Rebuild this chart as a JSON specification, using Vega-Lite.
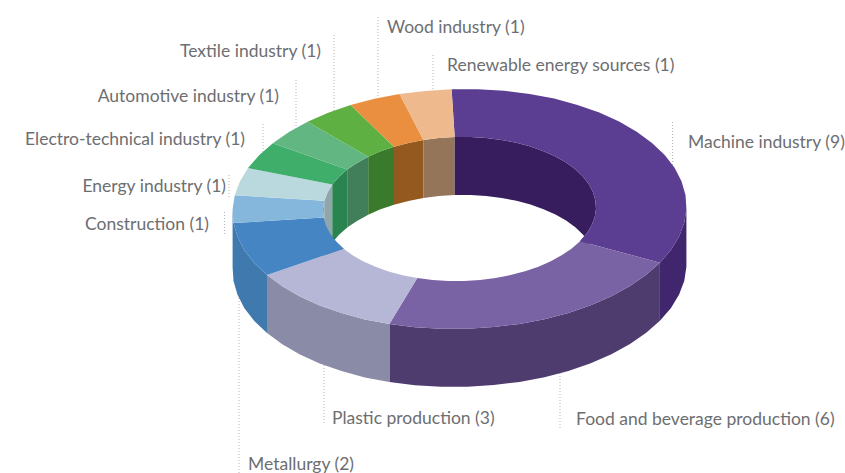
{
"$schema":"https://vega.github.io/schema/vega-lite/v6.json",
"width":845,"height":473,"padding":0,
"autosize":{"type":"none"},
"background":"#ffffff",
"view":{"stroke":null},
"datasets":{
"leaders":[
{"name":"Wood industry","x":378,"y":17,"y2":97},
{"name":"Renewable energy sources","x":433,"y":55,"y2":92},
{"name":"Textile industry","x":334,"y":35,"y2":112},
{"name":"Automotive industry","x":296,"y":80,"y2":130},
{"name":"Electro-technical industry","x":263,"y":124,"y2":152},
{"name":"Energy industry","x":229,"y":175,"y2":198},
{"name":"Construction","x":224.5,"y":212,"y2":234},
{"name":"Machine industry","x":672.5,"y":122,"y2":165},
{"name":"Food and beverage production","x":560,"y":370,"y2":430},
{"name":"Plastic production","x":324,"y":362,"y2":425},
{"name":"Metallurgy","x":239,"y":295,"y2":473}
],
"labels":[
{"label":"Wood industry (1)","side":"left","x":387,"y":27},
{"label":"Renewable energy sources (1)","side":"left","x":447,"y":65},
{"label":"Machine industry (9)","side":"left","x":688,"y":142},
{"label":"Plastic production (3)","side":"left","x":332,"y":418},
{"label":"Food and beverage production (6)","side":"left","x":576,"y":419},
{"label":"Metallurgy (2)","side":"left","x":248,"y":464},
{"label":"Textile industry (1)","side":"right","x":321,"y":51},
{"label":"Automotive industry (1)","side":"right","x":279,"y":96},
{"label":"Electro-technical industry (1)","side":"right","x":245,"y":139},
{"label":"Energy industry (1)","side":"right","x":226,"y":186},
{"label":"Construction (1)","side":"right","x":209,"y":224}
],
"faces":[
{"face":"Machine outer wall","i":0,"x":686.4,"y":208.8},{"face":"Machine outer wall","i":1,"x":684.3,"y":222.7},{"face":"Machine outer wall","i":2,"x":679.1,"y":236.5},{"face":"Machine outer wall","i":3,"x":671.0,"y":249.9},{"face":"Machine outer wall","i":4,"x":659.9,"y":262.7},{"face":"Machine outer wall","i":5,"x":659.9,"y":320.7},{"face":"Machine outer wall","i":6,"x":671.0,"y":307.9},{"face":"Machine outer wall","i":7,"x":679.1,"y":294.5},{"face":"Machine outer wall","i":8,"x":684.3,"y":280.7},{"face":"Machine outer wall","i":9,"x":686.4,"y":266.8},
{"face":"Food outer wall","i":0,"x":659.9,"y":262.7},{"face":"Food outer wall","i":1,"x":646.2,"y":274.8},{"face":"Food outer wall","i":2,"x":630.0,"y":285.9},{"face":"Food outer wall","i":3,"x":611.4,"y":296.2},{"face":"Food outer wall","i":4,"x":590.8,"y":305.2},{"face":"Food outer wall","i":5,"x":568.4,"y":312.9},{"face":"Food outer wall","i":6,"x":544.5,"y":319.2},{"face":"Food outer wall","i":7,"x":519.5,"y":323.9},{"face":"Food outer wall","i":8,"x":493.7,"y":327.1},{"face":"Food outer wall","i":9,"x":467.4,"y":328.8},{"face":"Food outer wall","i":10,"x":441.0,"y":328.8},{"face":"Food outer wall","i":11,"x":414.9,"y":327.3},{"face":"Food outer wall","i":12,"x":389.4,"y":324.0},
{"face":"Food outer wall","i":13,"x":389.4,"y":382.0},{"face":"Food outer wall","i":14,"x":414.9,"y":385.3},{"face":"Food outer wall","i":15,"x":441.0,"y":386.8},{"face":"Food outer wall","i":16,"x":467.4,"y":386.8},{"face":"Food outer wall","i":17,"x":493.7,"y":385.1},{"face":"Food outer wall","i":18,"x":519.5,"y":381.9},{"face":"Food outer wall","i":19,"x":544.5,"y":377.2},{"face":"Food outer wall","i":20,"x":568.4,"y":370.9},{"face":"Food outer wall","i":21,"x":590.8,"y":363.2},{"face":"Food outer wall","i":22,"x":611.4,"y":354.2},{"face":"Food outer wall","i":23,"x":630.0,"y":343.9},{"face":"Food outer wall","i":24,"x":646.2,"y":332.8},{"face":"Food outer wall","i":25,"x":659.9,"y":320.7},
{"face":"Plastic outer wall","i":0,"x":389.4,"y":324.0},{"face":"Plastic outer wall","i":1,"x":364.8,"y":319.4},{"face":"Plastic outer wall","i":2,"x":341.5,"y":313.1},{"face":"Plastic outer wall","i":3,"x":319.7,"y":305.4},{"face":"Plastic outer wall","i":4,"x":299.9,"y":296.4},{"face":"Plastic outer wall","i":5,"x":282.3,"y":286.3},{"face":"Plastic outer wall","i":6,"x":267.0,"y":275.1},{"face":"Plastic outer wall","i":7,"x":267.0,"y":333.1},{"face":"Plastic outer wall","i":8,"x":282.3,"y":344.3},{"face":"Plastic outer wall","i":9,"x":299.9,"y":354.4},{"face":"Plastic outer wall","i":10,"x":319.7,"y":363.4},{"face":"Plastic outer wall","i":11,"x":341.5,"y":371.1},{"face":"Plastic outer wall","i":12,"x":364.8,"y":377.4},{"face":"Plastic outer wall","i":13,"x":389.4,"y":382.0},
{"face":"Metallurgy outer wall","i":0,"x":267.0,"y":275.1},{"face":"Metallurgy outer wall","i":1,"x":254.3,"y":263.0},{"face":"Metallurgy outer wall","i":2,"x":244.4,"y":250.2},{"face":"Metallurgy outer wall","i":3,"x":237.5,"y":236.8},{"face":"Metallurgy outer wall","i":4,"x":233.5,"y":223.1},{"face":"Metallurgy outer wall","i":5,"x":232.6,"y":209.2},{"face":"Metallurgy outer wall","i":6,"x":232.6,"y":267.2},{"face":"Metallurgy outer wall","i":7,"x":233.5,"y":281.1},{"face":"Metallurgy outer wall","i":8,"x":237.5,"y":294.8},{"face":"Metallurgy outer wall","i":9,"x":244.4,"y":308.2},{"face":"Metallurgy outer wall","i":10,"x":254.3,"y":321.0},{"face":"Metallurgy outer wall","i":11,"x":267.0,"y":333.1},

{"face":"Metallurgy inner wall","i":0,"x":343.7,"y":248.7},{"face":"Metallurgy inner wall","i":1,"x":336.1,"y":241.4},{"face":"Metallurgy inner wall","i":2,"x":330.2,"y":233.7},{"face":"Metallurgy inner wall","i":3,"x":326.0,"y":225.8},{"face":"Metallurgy inner wall","i":4,"x":323.6,"y":217.5},{"face":"Metallurgy inner wall","i":5,"x":323.6,"y":275.5},{"face":"Metallurgy inner wall","i":6,"x":326.0,"y":283.8},{"face":"Metallurgy inner wall","i":7,"x":330.2,"y":291.7},{"face":"Metallurgy inner wall","i":8,"x":336.1,"y":299.4},{"face":"Metallurgy inner wall","i":9,"x":343.7,"y":306.7},
{"face":"Construction inner wall","i":0,"x":323.6,"y":217.5},{"face":"Construction inner wall","i":1,"x":323.0,"y":209.1},{"face":"Construction inner wall","i":2,"x":324.3,"y":200.8},{"face":"Construction inner wall","i":3,"x":324.3,"y":258.8},{"face":"Construction inner wall","i":4,"x":323.0,"y":267.1},{"face":"Construction inner wall","i":5,"x":323.6,"y":275.5},
{"face":"Energy inner wall","i":0,"x":324.3,"y":200.8},{"face":"Energy inner wall","i":1,"x":327.5,"y":192.5},{"face":"Energy inner wall","i":2,"x":332.3,"y":184.5},{"face":"Energy inner wall","i":3,"x":332.3,"y":242.5},{"face":"Energy inner wall","i":4,"x":327.5,"y":250.5},{"face":"Energy inner wall","i":5,"x":324.3,"y":258.8},
{"face":"Electro inner wall","i":0,"x":332.3,"y":184.5},{"face":"Electro inner wall","i":1,"x":339.0,"y":176.8},{"face":"Electro inner wall","i":2,"x":347.2,"y":169.5},{"face":"Electro inner wall","i":3,"x":347.2,"y":227.5},{"face":"Electro inner wall","i":4,"x":339.0,"y":234.8},{"face":"Electro inner wall","i":5,"x":332.3,"y":242.5},
{"face":"Automotive inner wall","i":0,"x":347.2,"y":169.5},{"face":"Automotive inner wall","i":1,"x":357.0,"y":162.9},{"face":"Automotive inner wall","i":2,"x":368.2,"y":156.7},{"face":"Automotive inner wall","i":3,"x":368.2,"y":214.7},{"face":"Automotive inner wall","i":4,"x":357.0,"y":220.9},{"face":"Automotive inner wall","i":5,"x":347.2,"y":227.5},
{"face":"Textile inner wall","i":0,"x":368.2,"y":156.7},{"face":"Textile inner wall","i":1,"x":380.5,"y":151.3},{"face":"Textile inner wall","i":2,"x":394.0,"y":146.7},{"face":"Textile inner wall","i":3,"x":394.0,"y":204.7},{"face":"Textile inner wall","i":4,"x":380.5,"y":209.3},{"face":"Textile inner wall","i":5,"x":368.2,"y":214.7},
{"face":"Wood inner wall","i":0,"x":394.0,"y":146.7},{"face":"Wood inner wall","i":1,"x":408.4,"y":142.9},{"face":"Wood inner wall","i":2,"x":423.4,"y":140.1},{"face":"Wood inner wall","i":3,"x":423.4,"y":198.1},{"face":"Wood inner wall","i":4,"x":408.4,"y":200.9},{"face":"Wood inner wall","i":5,"x":394.0,"y":204.7},
{"face":"Renewable inner wall","i":0,"x":423.4,"y":140.1},{"face":"Renewable inner wall","i":1,"x":438.9,"y":138.1},{"face":"Renewable inner wall","i":2,"x":454.7,"y":137.1},{"face":"Renewable inner wall","i":3,"x":454.7,"y":195.1},{"face":"Renewable inner wall","i":4,"x":438.9,"y":196.1},{"face":"Renewable inner wall","i":5,"x":423.4,"y":198.1},
{"face":"Machine inner wall","i":0,"x":454.7,"y":137.1},{"face":"Machine inner wall","i":1,"x":470.6,"y":137.1},{"face":"Machine inner wall","i":2,"x":486.3,"y":138.0},{"face":"Machine inner wall","i":3,"x":501.7,"y":139.9},{"face":"Machine inner wall","i":4,"x":516.5,"y":142.8},{"face":"Machine inner wall","i":5,"x":530.5,"y":146.6},{"face":"Machine inner wall","i":6,"x":543.5,"y":151.2},{"face":"Machine inner wall","i":7,"x":555.5,"y":156.5},{"face":"Machine inner wall","i":8,"x":566.1,"y":162.6},{"face":"Machine inner wall","i":9,"x":575.3,"y":169.3},{"face":"Machine inner wall","i":10,"x":582.9,"y":176.6},{"face":"Machine inner wall","i":11,"x":588.8,"y":184.3},{"face":"Machine inner wall","i":12,"x":593.0,"y":192.2},{"face":"Machine inner wall","i":13,"x":595.4,"y":200.5},{"face":"Machine inner wall","i":14,"x":596.0,"y":208.9},{"face":"Machine inner wall","i":15,"x":594.7,"y":217.2},{"face":"Machine inner wall","i":16,"x":591.5,"y":225.5},{"face":"Machine inner wall","i":17,"x":586.7,"y":233.5},{"face":"Machine inner wall","i":18,"x":580.0,"y":241.2},
{"face":"Machine inner wall","i":19,"x":580.0,"y":299.2},{"face":"Machine inner wall","i":20,"x":586.7,"y":291.5},{"face":"Machine inner wall","i":21,"x":591.5,"y":283.5},{"face":"Machine inner wall","i":22,"x":594.7,"y":275.2},{"face":"Machine inner wall","i":23,"x":596.0,"y":266.9},{"face":"Machine inner wall","i":24,"x":595.4,"y":258.5},{"face":"Machine inner wall","i":25,"x":593.0,"y":250.2},{"face":"Machine inner wall","i":26,"x":588.8,"y":242.3},{"face":"Machine inner wall","i":27,"x":582.9,"y":234.6},{"face":"Machine inner wall","i":28,"x":575.3,"y":227.3},{"face":"Machine inner wall","i":29,"x":566.1,"y":220.6},{"face":"Machine inner wall","i":30,"x":555.5,"y":214.5},{"face":"Machine inner wall","i":31,"x":543.5,"y":209.2},{"face":"Machine inner wall","i":32,"x":530.5,"y":204.6},{"face":"Machine inner wall","i":33,"x":516.5,"y":200.8},{"face":"Machine inner wall","i":34,"x":501.7,"y":197.9},{"face":"Machine inner wall","i":35,"x":486.3,"y":196.0},{"face":"Machine inner wall","i":36,"x":470.6,"y":195.1},{"face":"Machine inner wall","i":37,"x":454.7,"y":195.1},

{"face":"Machine top","i":0,"x":451.6,"y":89.2},{"face":"Machine top","i":1,"x":478.0,"y":89.2},{"face":"Machine top","i":2,"x":504.1,"y":90.7},{"face":"Machine top","i":3,"x":529.6,"y":94.0},{"face":"Machine top","i":4,"x":554.2,"y":98.6},{"face":"Machine top","i":5,"x":577.5,"y":104.9},{"face":"Machine top","i":6,"x":599.3,"y":112.6},{"face":"Machine top","i":7,"x":619.1,"y":121.6},{"face":"Machine top","i":8,"x":636.7,"y":131.7},{"face":"Machine top","i":9,"x":652.0,"y":142.9},{"face":"Machine top","i":10,"x":664.7,"y":155.0},{"face":"Machine top","i":11,"x":674.6,"y":167.8},{"face":"Machine top","i":12,"x":681.5,"y":181.2},{"face":"Machine top","i":13,"x":685.5,"y":194.9},{"face":"Machine top","i":14,"x":686.4,"y":208.8},{"face":"Machine top","i":15,"x":684.3,"y":222.7},{"face":"Machine top","i":16,"x":679.1,"y":236.5},{"face":"Machine top","i":17,"x":671.0,"y":249.9},{"face":"Machine top","i":18,"x":659.9,"y":262.7},
{"face":"Machine top","i":19,"x":580.0,"y":241.2},{"face":"Machine top","i":20,"x":586.7,"y":233.5},{"face":"Machine top","i":21,"x":591.5,"y":225.5},{"face":"Machine top","i":22,"x":594.7,"y":217.2},{"face":"Machine top","i":23,"x":596.0,"y":208.9},{"face":"Machine top","i":24,"x":595.4,"y":200.5},{"face":"Machine top","i":25,"x":593.0,"y":192.2},{"face":"Machine top","i":26,"x":588.8,"y":184.3},{"face":"Machine top","i":27,"x":582.9,"y":176.6},{"face":"Machine top","i":28,"x":575.3,"y":169.3},{"face":"Machine top","i":29,"x":566.1,"y":162.6},{"face":"Machine top","i":30,"x":555.5,"y":156.5},{"face":"Machine top","i":31,"x":543.5,"y":151.2},{"face":"Machine top","i":32,"x":530.5,"y":146.6},{"face":"Machine top","i":33,"x":516.5,"y":142.8},{"face":"Machine top","i":34,"x":501.7,"y":139.9},{"face":"Machine top","i":35,"x":486.3,"y":138.0},{"face":"Machine top","i":36,"x":470.6,"y":137.1},{"face":"Machine top","i":37,"x":454.7,"y":137.1},
{"face":"Food top","i":0,"x":659.9,"y":262.7},{"face":"Food top","i":1,"x":646.2,"y":274.8},{"face":"Food top","i":2,"x":630.0,"y":285.9},{"face":"Food top","i":3,"x":611.4,"y":296.2},{"face":"Food top","i":4,"x":590.8,"y":305.2},{"face":"Food top","i":5,"x":568.4,"y":312.9},{"face":"Food top","i":6,"x":544.5,"y":319.2},{"face":"Food top","i":7,"x":519.5,"y":323.9},{"face":"Food top","i":8,"x":493.7,"y":327.1},{"face":"Food top","i":9,"x":467.4,"y":328.8},{"face":"Food top","i":10,"x":441.0,"y":328.8},{"face":"Food top","i":11,"x":414.9,"y":327.3},{"face":"Food top","i":12,"x":389.4,"y":324.0},
{"face":"Food top","i":13,"x":417.3,"y":278.1},{"face":"Food top","i":14,"x":432.7,"y":280.0},{"face":"Food top","i":15,"x":448.4,"y":280.9},{"face":"Food top","i":16,"x":464.3,"y":280.9},{"face":"Food top","i":17,"x":480.1,"y":279.9},{"face":"Food top","i":18,"x":495.6,"y":277.9},{"face":"Food top","i":19,"x":510.6,"y":275.1},{"face":"Food top","i":20,"x":525.0,"y":271.3},{"face":"Food top","i":21,"x":538.5,"y":266.7},{"face":"Food top","i":22,"x":550.8,"y":261.3},{"face":"Food top","i":23,"x":562.0,"y":255.1},{"face":"Food top","i":24,"x":571.8,"y":248.5},{"face":"Food top","i":25,"x":580.0,"y":241.2},
{"face":"Plastic top","i":0,"x":389.4,"y":324.0},{"face":"Plastic top","i":1,"x":364.8,"y":319.4},{"face":"Plastic top","i":2,"x":341.5,"y":313.1},{"face":"Plastic top","i":3,"x":319.7,"y":305.4},{"face":"Plastic top","i":4,"x":299.9,"y":296.4},{"face":"Plastic top","i":5,"x":282.3,"y":286.3},{"face":"Plastic top","i":6,"x":267.0,"y":275.1},{"face":"Plastic top","i":7,"x":343.7,"y":248.7},{"face":"Plastic top","i":8,"x":352.9,"y":255.4},{"face":"Plastic top","i":9,"x":363.5,"y":261.5},{"face":"Plastic top","i":10,"x":375.5,"y":266.8},{"face":"Plastic top","i":11,"x":388.5,"y":271.4},{"face":"Plastic top","i":12,"x":402.5,"y":275.2},{"face":"Plastic top","i":13,"x":417.3,"y":278.1},
{"face":"Metallurgy top","i":0,"x":267.0,"y":275.1},{"face":"Metallurgy top","i":1,"x":254.3,"y":263.0},{"face":"Metallurgy top","i":2,"x":244.4,"y":250.2},{"face":"Metallurgy top","i":3,"x":237.5,"y":236.8},{"face":"Metallurgy top","i":4,"x":233.5,"y":223.1},{"face":"Metallurgy top","i":5,"x":323.6,"y":217.5},{"face":"Metallurgy top","i":6,"x":326.0,"y":225.8},{"face":"Metallurgy top","i":7,"x":330.2,"y":233.7},{"face":"Metallurgy top","i":8,"x":336.1,"y":241.4},{"face":"Metallurgy top","i":9,"x":343.7,"y":248.7},
{"face":"Construction top","i":0,"x":233.5,"y":223.1},{"face":"Construction top","i":1,"x":232.6,"y":209.2},{"face":"Construction top","i":2,"x":234.7,"y":195.3},{"face":"Construction top","i":3,"x":324.3,"y":200.8},{"face":"Construction top","i":4,"x":323.0,"y":209.1},{"face":"Construction top","i":5,"x":323.6,"y":217.5},
{"face":"Energy top","i":0,"x":234.7,"y":195.3},{"face":"Energy top","i":1,"x":239.9,"y":181.5},{"face":"Energy top","i":2,"x":248.0,"y":168.1},{"face":"Energy top","i":3,"x":332.3,"y":184.5},{"face":"Energy top","i":4,"x":327.5,"y":192.5},{"face":"Energy top","i":5,"x":324.3,"y":200.8},
{"face":"Electro top","i":0,"x":248.0,"y":168.1},{"face":"Electro top","i":1,"x":259.1,"y":155.3},{"face":"Electro top","i":2,"x":272.8,"y":143.2},{"face":"Electro top","i":3,"x":347.2,"y":169.5},{"face":"Electro top","i":4,"x":339.0,"y":176.8},{"face":"Electro top","i":5,"x":332.3,"y":184.5},
{"face":"Automotive top","i":0,"x":272.8,"y":143.2},{"face":"Automotive top","i":1,"x":289.0,"y":132.1},{"face":"Automotive top","i":2,"x":307.6,"y":121.8},{"face":"Automotive top","i":3,"x":368.2,"y":156.7},{"face":"Automotive top","i":4,"x":357.0,"y":162.9},{"face":"Automotive top","i":5,"x":347.2,"y":169.5},
{"face":"Textile top","i":0,"x":307.6,"y":121.8},{"face":"Textile top","i":1,"x":328.2,"y":112.8},{"face":"Textile top","i":2,"x":350.6,"y":105.1},{"face":"Textile top","i":3,"x":394.0,"y":146.7},{"face":"Textile top","i":4,"x":380.5,"y":151.3},{"face":"Textile top","i":5,"x":368.2,"y":156.7},
{"face":"Wood top","i":0,"x":350.6,"y":105.1},{"face":"Wood top","i":1,"x":374.5,"y":98.8},{"face":"Wood top","i":2,"x":399.5,"y":94.1},{"face":"Wood top","i":3,"x":423.4,"y":140.1},{"face":"Wood top","i":4,"x":408.4,"y":142.9},{"face":"Wood top","i":5,"x":394.0,"y":146.7},
{"face":"Renewable top","i":0,"x":399.5,"y":94.1},{"face":"Renewable top","i":1,"x":425.3,"y":90.9},{"face":"Renewable top","i":2,"x":451.6,"y":89.2},{"face":"Renewable top","i":3,"x":454.7,"y":137.1},{"face":"Renewable top","i":4,"x":438.9,"y":138.1},{"face":"Renewable top","i":5,"x":423.4,"y":140.1}
]
},
"layer":[
{
"data":{"name":"leaders"},
"mark":{"type":"rule","color":"#b5b5b5","strokeWidth":1,"strokeDash":[1,2]},
"encoding":{
"x":{"field":"x","type":"quantitative","scale":{"domain":[0,845],"nice":false,"zero":false},"axis":null},
"y":{"field":"y","type":"quantitative","scale":{"domain":[473,0],"nice":false,"zero":false},"axis":null},
"y2":{"field":"y2"}
}
},
{
"data":{"name":"faces"},
"mark":{"type":"line","filled":true,"strokeWidth":0,"interpolate":"linear-closed"},
"encoding":{
"x":{"field":"x","type":"quantitative","scale":{"domain":[0,845],"nice":false,"zero":false},"axis":null},
"y":{"field":"y","type":"quantitative","scale":{"domain":[473,0],"nice":false,"zero":false},"axis":null},
"order":{"field":"i","type":"quantitative"},
"color":{"field":"face","type":"nominal","legend":null,"sort":null,"scale":{
"domain":["Machine outer wall","Food outer wall","Plastic outer wall","Metallurgy outer wall","Metallurgy inner wall","Construction inner wall","Energy inner wall","Electro inner wall","Automotive inner wall","Textile inner wall","Wood inner wall","Renewable inner wall","Machine inner wall","Machine top","Food top","Plastic top","Metallurgy top","Construction top","Energy top","Electro top","Automotive top","Textile top","Wood top","Renewable top"],
"range":["#40266c","#4f3c6e","#8a8ba6","#3f79ae","#6f8f9f","#7f9aa6","#8fa6aa","#2a8450","#417f5a","#3a7a2c","#94591f","#957559","#371c5e","#5b3e92","#7a63a5","#b6b6d6","#4685c3","#85b7dd","#b9d9de","#3fae6a","#62b681","#5fb042","#ea8f3f","#eeb98c"]
}}
}
},
{
"data":{"name":"labels"},
"transform":[{"filter":"datum.side === 'left'"}],
"mark":{"type":"text","align":"left","baseline":"middle","dy":1,"font":"Lato","fontSize":17.5,"color":"#6d6e71"},
"encoding":{
"x":{"field":"x","type":"quantitative","scale":{"domain":[0,845],"nice":false,"zero":false},"axis":null},
"y":{"field":"y","type":"quantitative","scale":{"domain":[473,0],"nice":false,"zero":false},"axis":null},
"text":{"field":"label"}
}
},
{
"data":{"name":"labels"},
"transform":[{"filter":"datum.side === 'right'"}],
"mark":{"type":"text","align":"right","baseline":"middle","dy":1,"font":"Lato","fontSize":17.5,"color":"#6d6e71"},
"encoding":{
"x":{"field":"x","type":"quantitative","scale":{"domain":[0,845],"nice":false,"zero":false},"axis":null},
"y":{"field":"y","type":"quantitative","scale":{"domain":[473,0],"nice":false,"zero":false},"axis":null},
"text":{"field":"label"}
}
}
]
}
